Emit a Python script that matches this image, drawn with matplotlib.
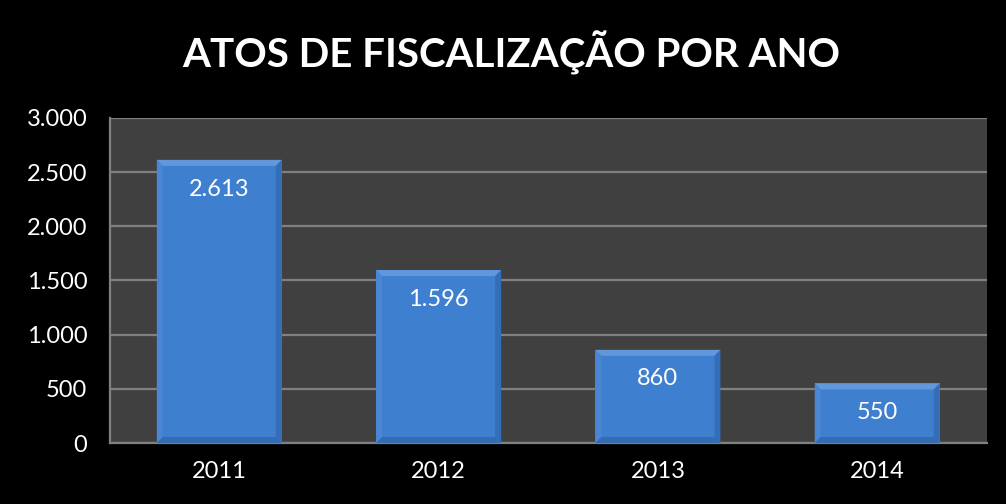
import numpy as np
import matplotlib.pyplot as plt
from matplotlib.patches import Polygon
from matplotlib.ticker import FuncFormatter

# dados
anos = ['2011', '2012', '2013', '2014']
atos = [2613, 1596, 860, 550]
y_ticks = [0, 500, 1000, 1500, 2000, 2500, 3000]

def fmt_br(v, pos=None):
    return f'{int(v):,}'.replace(',', '.')

plt.rcParams['font.family'] = ['Lato', 'DejaVu Sans']

fig = plt.figure(figsize=(10.06, 5.04), dpi=100, facecolor='black')
ax = fig.add_axes([0.109, 0.121, 0.872, 0.645])
ax.set_facecolor('#404040')

x = np.arange(len(anos))
largura = 0.57
ax.set_xlim(-0.5, len(anos) - 0.5)
ax.set_ylim(0, 3000)
ax.set_yticks(y_ticks)
ax.yaxis.set_major_formatter(FuncFormatter(fmt_br))
ax.grid(axis='y', color='#808080', linewidth=1.6, zorder=0)
ax.set_axisbelow(True)

bars = ax.bar(x, atos, width=largura, color='#3f7fcf', zorder=2)

# bisel dos retangulos (tamanho em pixels convertido para dados)
fig.canvas.draw()
bb = ax.get_window_extent()
px_x = (ax.get_xlim()[1] - ax.get_xlim()[0]) / bb.width
px_y = (ax.get_ylim()[1] - ax.get_ylim()[0]) / bb.height
bx, by = 6 * px_x, 6 * px_y
for b in bars:
    x0, x1 = b.get_x(), b.get_x() + b.get_width()
    y0, y1 = 0, b.get_height()
    faces = [
        ([(x0, y1), (x1, y1), (x1 - bx, y1 - by), (x0 + bx, y1 - by)], '#6198dc'),
        ([(x0, y0), (x0, y1), (x0 + bx, y1 - by), (x0 + bx, y0 + by)], '#4a86d3'),
        ([(x1, y0), (x1, y1), (x1 - bx, y1 - by), (x1 - bx, y0 + by)], '#356eb8'),
        ([(x0, y0), (x1, y0), (x1 - bx, y0 + by), (x0 + bx, y0 + by)], '#346cb4'),
    ]
    for pts, c in faces:
        ax.add_patch(Polygon(pts, closed=True, facecolor=c, edgecolor='none', zorder=3))
    ax.annotate(fmt_br(b.get_height()), (b.get_x() + b.get_width() / 2, b.get_height()),
                xytext=(0, -21), textcoords='offset points', ha='center', va='center',
                color='white', fontsize=17, zorder=4)

ax.set_xticks(x)
ax.set_xticklabels(anos)
ax.tick_params(axis='both', length=0, colors='white', labelsize=17)
ax.tick_params(axis='y', pad=16)
ax.tick_params(axis='x', pad=13)
for s in ['top', 'right']:
    ax.spines[s].set_visible(False)
for s in ['left', 'bottom']:
    ax.spines[s].set_color('#808080')
    ax.spines[s].set_linewidth(1.6)

fig.text(0.508, 0.895, 'ATOS DE FISCALIZAÇÃO POR ANO', ha='center', va='center',
         color='white', fontsize=29, fontweight='bold')

fig.savefig('out.png', dpi=100, facecolor='black')
